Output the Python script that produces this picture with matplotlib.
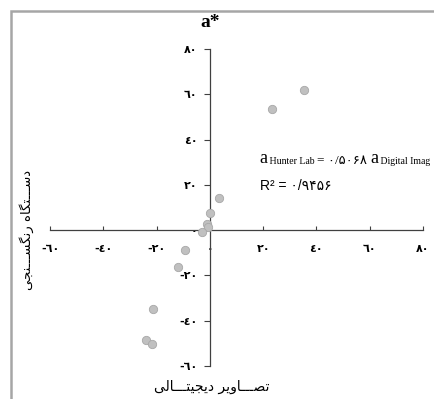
import matplotlib
matplotlib.use('Agg')
import matplotlib.pyplot as plt
from matplotlib.patches import Rectangle

# ---------------------------- data ----------------------------
digital_a = [35.2, 23.5, 3.5, 0.1, -1.1, -0.6, -3.1, -9.4, -11.9, -21.4, -23.8, -21.9]
hunter_a = [61.8, 53.4, 14.4, 7.4, 2.6, 1.2, -1.0, -8.7, -16.2, -34.9, -48.7, -50.2]

tick_vals = [-60, -40, -20, 0, 20, 40, 60, 80]
x_tick_labels = ['-\u0666\u0660', '-\u0664\u0660', '-\u0662\u0660', '\u0660',
                 '\u0662\u0660', '\u0664\u0660', '\u0666\u0660', '\u0668\u0660']
y_tick_labels = x_tick_labels

slope_txt = '= \u06f0/\u06f5\u06f0\u06f6\u06f8 '
r2_txt = 'R\u00b2 = \u06f0/\u06f9\u06f4\u06f5\u06f6'

# persian labels, pre-shaped (presentation forms) and reversed for LTR drawing
TW = '\u0640' * 3
xlab = ('\ufe97\ufebc' + TW + '\ufe8e\ufeed\ufef3\ufeae' + ' ' +
        '\ufea9\ufef3\ufea0\ufef4\ufe98' + TW + '\ufe8e\ufedf\ufef0')[::-1]
ylab = ('\ufea9\ufeb3' + TW + '\ufe98\ufb95\ufe8e\ufee9' + ' ' +
        '\ufead\ufee7\ufb95\ufeb4' + TW + '\ufee8\ufea0\ufef0')[::-1]

W, H = 435, 399
fig = plt.figure(figsize=(W / 100, H / 100), dpi=100)

# gray frame around the chart
fig.patches.append(Rectangle((11 / W, -0.5), 2, 0.5 + (H - 11) / H, transform=fig.transFigure,
                             fill=False, edgecolor='#a6a6a6', lw=1.8))

ax = fig.add_axes([50 / W, 33 / H, 373 / W, 317 / H])
ax.scatter(digital_a, hunter_a, s=36, color='#c0c0c0', edgecolors='#a8a8a8', linewidths=0.6, zorder=3)

ax.set_xlim(-60, 80)
ax.set_ylim(-60, 80)
for s in ['top', 'right']:
    ax.spines[s].set_visible(False)
ax.spines['left'].set_position(('data', 0))
ax.spines['bottom'].set_position(('data', 0))
for s in ['left', 'bottom']:
    ax.spines[s].set_color('#404040')
    ax.spines[s].set_linewidth(0.9)
ax.patch.set_alpha(0)

ax.set_xticks(tick_vals)
ax.set_xticklabels(x_tick_labels)
ax.set_yticks(tick_vals)
ax.set_yticklabels(y_tick_labels)
ax.tick_params(axis='x', direction='in', length=3, pad=10, colors='#404040', labelcolor='black')
ax.tick_params(axis='y', direction='out', length=4, pad=5, colors='#404040', labelcolor='black')
for lab in ax.get_xticklabels() + ax.get_yticklabels():
    lab.set_fontfamily('DejaVu Sans')
    lab.set_fontweight('bold')
    lab.set_fontsize(8)

# title
fig.text(210 / W, 1 - 27 / H, 'a*', ha='center', va='baseline', fontsize=14,
         fontweight='bold', family='Liberation Serif')

# axis titles
fig.text(212 / W, 1 - 391 / H, xlab, ha='center', va='baseline', fontsize=10, family='DejaVu Sans')
fig.text(27 / W, 1 - 230 / H, ylab, ha='center', va='center', rotation=90, fontsize=9.5,
         family='DejaVu Sans')

# equation
serif = ['Liberation Serif', 'DejaVu Sans']
t1 = fig.text(259 / W, 1 - 167 / H, 'a', fontsize=13, family=serif, va='bottom')
t2 = ax.annotate(' Hunter Lab ', xy=(1, 0), xycoords=t1, xytext=(0, 1.0), textcoords='offset points',
                 fontsize=7, family=serif, va='bottom')
t3 = ax.annotate(slope_txt, xy=(1, 0), xycoords=t2, xytext=(0, -1.0), textcoords='offset points',
                 fontsize=9.5, family=serif, va='bottom')
t4 = ax.annotate('a', xy=(1, 0), xycoords=t3, fontsize=13, family=serif, va='bottom')
t5 = ax.annotate(' Digital Imag', xy=(1, 0), xycoords=t4, xytext=(0, 1.0), textcoords='offset points',
                 fontsize=7, family=serif, va='bottom', annotation_clip=False)
fig.text(260 / W, 1 - 190 / H, r2_txt, fontsize=10, family=['Liberation Sans', 'DejaVu Sans'],
         va='baseline')

fig.savefig('out.png', dpi=100)
